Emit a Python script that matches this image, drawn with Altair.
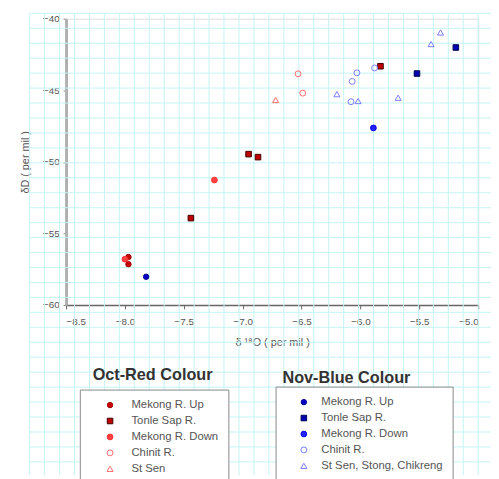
import altair as alt
import pandas as pd
import numpy as np

# ---- data ----
oct_series = ["Mekong R. Up", "Mekong R. Up", "Mekong R. Down",
              "Tonle Sap R.", "Tonle Sap R.", "Tonle Sap R.", "Tonle Sap R.",
              "Mekong R. Down", "Chinit R.", "Chinit R.", "St Sen"]
oct_x = [-7.97, -7.97, -8.00, -7.44, -6.95, -6.87, -5.83, -7.24, -6.53, -6.49, -6.72]
oct_y = [-56.65, -57.15, -56.80, -53.93, -49.46, -49.67, -43.32, -51.27, -43.85, -45.20, -45.68]

nov_series = ["Mekong R. Up", "Mekong R. Down", "Tonle Sap R.", "Tonle Sap R.",
              "Chinit R.", "Chinit R.", "Chinit R.", "Chinit R.",
              "St Sen, Stong, Chikreng", "St Sen, Stong, Chikreng", "St Sen, Stong, Chikreng",
              "St Sen, Stong, Chikreng", "St Sen, Stong, Chikreng"]
nov_x = [-7.82, -5.89, -5.52, -5.19, -6.03, -6.07, -5.88, -6.08, -6.02, -5.68, -6.20, -5.40, -5.32]
nov_y = [-58.03, -47.63, -43.83, -42.01, -43.78, -44.38, -43.44, -45.80, -45.75, -45.52, -45.27, -41.77, -40.96]

oct_names = ["Mekong R. Up", "Tonle Sap R.", "Mekong R. Down", "Chinit R.", "St Sen"]
oct_fill = ["#cc0000", "#c00000", "#ff4040", "transparent", "transparent"]
oct_stroke = ["#990000", "#400000", "#ff3030", "#ff6a6a", "#ff6a6a"]
oct_shape = ["circle", "square", "circle", "circle", "triangle-up"]
oct_size = [30, 38, 30, 30, 30]

nov_names = ["Mekong R. Up", "Tonle Sap R.", "Mekong R. Down", "Chinit R.", "St Sen, Stong, Chikreng"]
nov_fill = ["#0000cc", "#0000b0", "#2222ff", "transparent", "transparent"]
nov_stroke = ["#000088", "#000050", "#0000ee", "#7a7aff", "#7a7aff"]
nov_shape = ["circle", "square", "circle", "circle", "triangle-up"]
nov_size = [30, 38, 55, 30, 30]

x_ticks = [-8.5, -8.0, -7.5, -7.0, -6.5, -6.0, -5.5, -5.0]
y_ticks = [-60, -55, -50, -45, -40]
X_DOM = [-8.5, -5.0]
Y_DOM = [-60, -40]

W, H = 419, 291
PL, PT = 59, 7
px_x = W / (X_DOM[1] - X_DOM[0])
px_y = H / (Y_DOM[1] - Y_DOM[0])

# graph-paper background (decoration), expressed in data units
step = 15.2
gx_pix = np.arange(30 - (PL + 8), 499 - (PL + 8), step)
gy_pix = np.arange(9.5 - (PT + 8), 479 - (PT + 8), step)
top_pix, bot_pix = 10 - (PT + 8), 479 - (PT + 8)
left_pix, right_pix = 30 - (PL + 8), 499 - (PL + 8)
vgrid = pd.DataFrame({
    "x": X_DOM[0] + gx_pix / px_x,
    "y": Y_DOM[1] - top_pix / px_y,
    "y2": Y_DOM[1] - bot_pix / px_y,
})
hgrid = pd.DataFrame({
    "y": Y_DOM[1] - gy_pix / px_y,
    "x": X_DOM[0] + left_pix / px_x,
    "x2": X_DOM[0] + right_pix / px_x,
})

xs = alt.Scale(domain=X_DOM, nice=False, zero=False)
ys = alt.Scale(domain=Y_DOM, nice=False, zero=False)
GRID = "#c4f4f4"

xaxis = alt.Axis(values=x_ticks, format=".1f", grid=False, title="δ ¹⁸O ( per mil )",
                 domainColor="#666", domainWidth=1.5, tickColor="#666", tickSize=4,
                 labelFontSize=10, labelColor="#555", titleFontSize=11, titleColor="#555",
                 titleFontWeight="normal", labelPadding=8, titlePadding=10)
yaxis = alt.Axis(values=y_ticks, format=".0f", grid=False, title="δD ( per mil )",
                 domainColor="#b0b0b0", domainWidth=3, tickColor="#888", tickSize=3,
                 labelFontSize=10, labelColor="#555", titleFontSize=11, titleColor="#555",
                 titleFontWeight="normal", labelPadding=4, titlePadding=12)

vg = alt.Chart(vgrid).mark_rule(color=GRID, strokeWidth=1).encode(
    x=alt.X("x:Q", scale=xs, axis=xaxis), y=alt.Y("y:Q", scale=ys, axis=yaxis), y2="y2:Q")
hg = alt.Chart(hgrid).mark_rule(color=GRID, strokeWidth=1).encode(
    y=alt.Y("y:Q", scale=ys, axis=yaxis), x=alt.X("x:Q", scale=xs, axis=xaxis), x2="x2:Q")


def legend(x, y, sym_off, lab_off):
    return alt.Legend(orient="none", legendX=x, legendY=y, title=None,
                      strokeColor="#888", fillColor="white", padding=10,
                      symbolOffset=sym_off, labelFontSize=11.5, labelColor="#555",
                      rowPadding=3.2, labelOffset=lab_off, symbolStrokeWidth=1)

oct_df = pd.DataFrame({"x": oct_x, "y": oct_y, "Oct": oct_series})
nov_df = pd.DataFrame({"x": nov_x, "y": nov_y, "Nov": nov_series})

lo = legend(81 - (PL + 8), 392 - (PT + 8), 15, 16)
ln = legend(280 - (PL + 8), 389 - (PT + 8), 13, 12)

octp = alt.Chart(oct_df).mark_point(opacity=1, strokeWidth=1).encode(
    x=alt.X("x:Q", scale=xs, axis=xaxis),
    y=alt.Y("y:Q", scale=ys, axis=yaxis),
    fill=alt.Fill("Oct:N", scale=alt.Scale(domain=oct_names, range=oct_fill), legend=lo),
    stroke=alt.Stroke("Oct:N", scale=alt.Scale(domain=oct_names, range=oct_stroke), legend=lo),
    shape=alt.Shape("Oct:N", scale=alt.Scale(domain=oct_names, range=oct_shape), legend=lo),
    size=alt.Size("Oct:N", scale=alt.Scale(domain=oct_names, range=oct_size), legend=lo),
)
novp = alt.Chart(nov_df).mark_point(opacity=1, strokeWidth=1).encode(
    x=alt.X("x:Q", scale=xs, axis=xaxis),
    y=alt.Y("y:Q", scale=ys, axis=yaxis),
    fill=alt.Fill("Nov:N", scale=alt.Scale(domain=nov_names, range=nov_fill), legend=ln),
    stroke=alt.Stroke("Nov:N", scale=alt.Scale(domain=nov_names, range=nov_stroke), legend=ln),
    shape=alt.Shape("Nov:N", scale=alt.Scale(domain=nov_names, range=nov_shape), legend=ln),
    size=alt.Size("Nov:N", scale=alt.Scale(domain=nov_names, range=nov_size), legend=ln),
)

titles = pd.DataFrame({"t": ["Oct-Red Colour", "Nov-Blue Colour"],
                       "px": [155 - (PL + 8), 352 - (PL + 8)],
                       "py": [377 - (PT + 8), 380 - (PT + 8)]})
tl = alt.Chart(titles).mark_text(fontSize=16.5, fontWeight="bold", color="#333",
                                 baseline="middle", align="center").encode(
    x=alt.X("px:Q", scale=None), y=alt.Y("py:Q", scale=None), text="t:N")

chart = alt.layer(vg, hg, octp, novp, tl).resolve_scale(
    fill="independent", stroke="independent", shape="independent", size="independent"
).resolve_legend(
    fill="independent", stroke="independent", shape="independent", size="independent"
).properties(
    width=W, height=H,
    autosize=alt.AutoSizeParams(type="none"),
    padding={"left": PL, "top": PT, "right": 13, "bottom": 173},
).configure_view(stroke="#777", strokeWidth=1.5).configure(
    font="Liberation Sans", background="white")

chart.save("out.html", embed_options={"renderer": "svg", "actions": False})
